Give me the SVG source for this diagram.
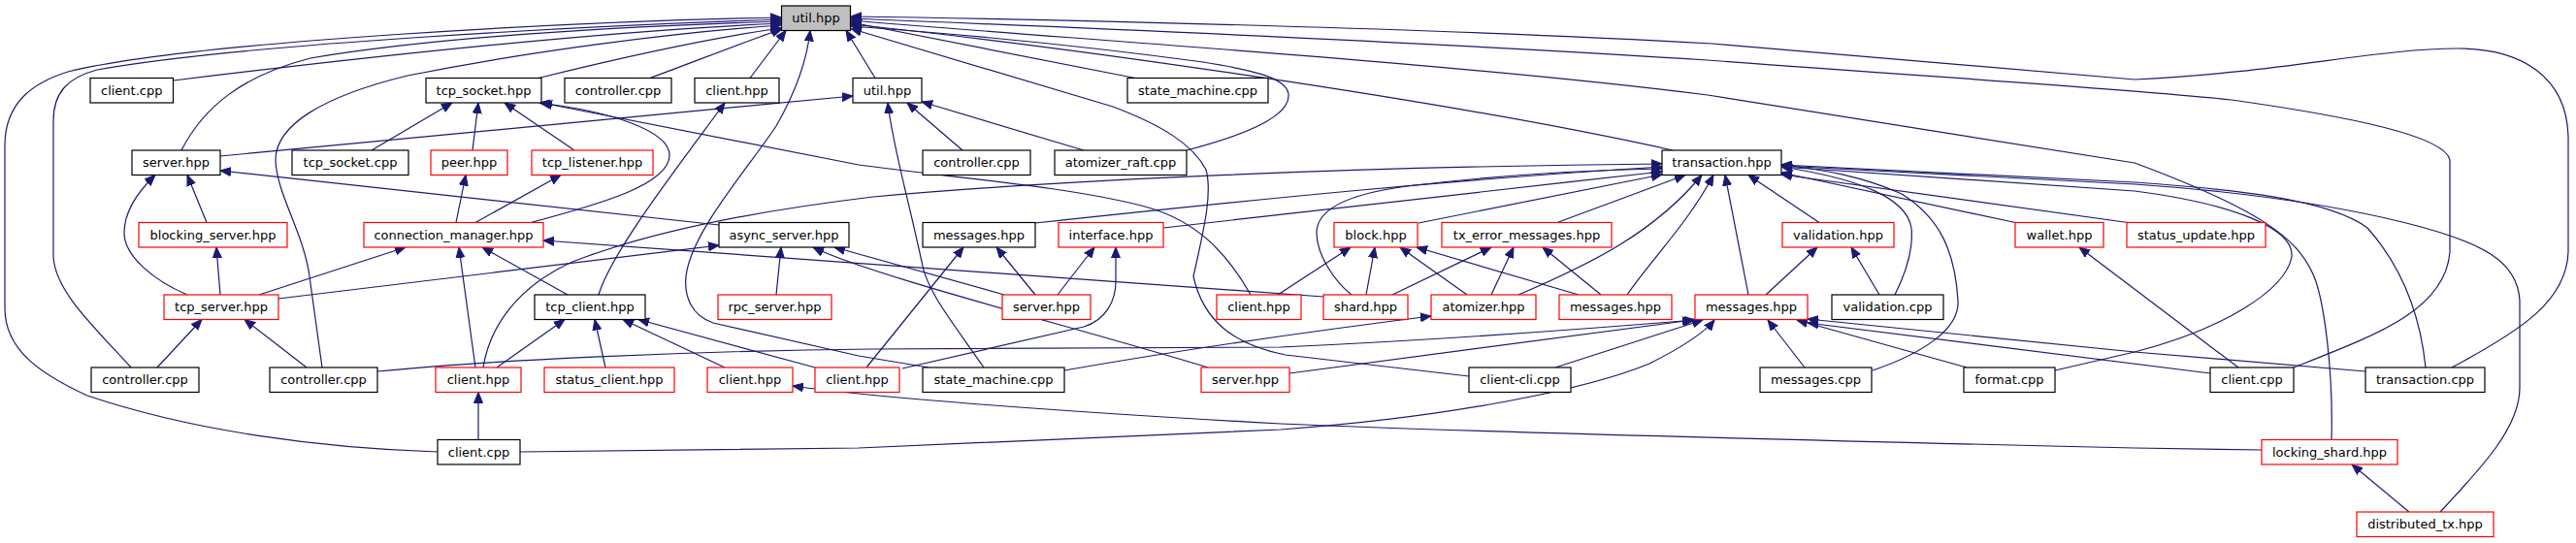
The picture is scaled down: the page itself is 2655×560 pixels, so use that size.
<svg xmlns="http://www.w3.org/2000/svg" width="2655" height="560" viewBox="0 0 2655 560">
<defs>
<style>
.nb{fill:#ffffff;stroke:#000000;stroke-width:1.2}
.nr{fill:#ffffff;stroke:#ff0000;stroke-width:1.2}
.nroot{fill:#bfbfbf;stroke:#000000;stroke-width:1.2}
text{font-family:"DejaVu Sans","Liberation Sans",sans-serif;font-size:13px;fill:#000000;text-anchor:middle}
.e{fill:none;stroke:#191970;stroke-width:1.2;marker-end:url(#ah)}
</style>
<marker id="ah" markerWidth="12" markerHeight="10" refX="11" refY="4.5" orient="auto" markerUnits="userSpaceOnUse" viewBox="0 0 12 9">
<path d="M0,0 L11,4.5 L0,9 z" fill="#191970" stroke="#191970" stroke-width="1"/>
</marker>
</defs>
<rect x="0" y="0" width="2655" height="560" fill="#ffffff"/>
<g id="edges">
<path class="e" d="M179,83 C350,62 600,33 805,24"/>
<path class="e" d="M555,80.5 C650,57 740,38 805,29"/>
<path class="e" d="M670,80.5 C720,62 770,42 806,30"/>
<path class="e" d="M773,80.5 L810,31.5"/>
<path class="e" d="M902,80.5 L872,31.5"/>
<path class="e" d="M1170,80.5 L877,23"/>
<path class="e" d="M1223,155 C1300,135 1330,115 1328,97 C1326,80 1290,72 1240,64 C1100,45 960,33 877,27"/>
<path class="e" d="M1724,155 C1500,105 1100,48 877,25"/>
<path class="e" d="M187,155 C210,110 250,78 320,60 C450,38 650,27 805,22"/>
<path class="e" d="M135,379 C95,335 57,300 55,265 L55,125 C55,95 70,80 100,72 C250,45 600,27 805,20"/>
<path class="e" d="M332,379 L319,285 C313,240 285,200 284,165 C284,130 330,100 420,78 C550,52 700,33 805,26"/>
<path class="e" d="M451,466 C330,462 200,445 90,408 C40,385 5,360 5,318 L5,150 C5,105 35,85 70,74 C200,42 600,22 805,18"/>
<path class="e" d="M957,379 L885,367 L735,333 C712,325 705,305 707,285 C712,240 770,175 800,130 C820,95 832,60 835,31.5"/>
<path class="e" d="M1514,388 L1325,366 C1270,355 1240,330 1230,285 C1240,240 1250,200 1243,175 C1230,150 1200,130 1147,110 L877,29.5"/>
<path class="e" d="M2527,379 C2600,340 2645,310 2647,260 L2647,140 C2645,80 2600,50 2533,50 C2450,50 2350,75 2200,82 L1765,45 C1500,30 1100,20 877,17"/>
<path class="e" d="M2364,379 C2450,345 2520,320 2525,260 L2525,165 C2520,140 2420,120 2300,103 C2200,92 2000,80 1760,62 C1500,45 1100,28 877,19"/>
<path class="e" d="M2403,453.5 C2405,380 2395,310 2385,285 C2370,250 2340,220 2200,168 L1760,98 C1500,65 1100,40 877,21"/>
<path class="e" d="M383,155 L466,106"/>
<path class="e" d="M487,155 L493,106"/>
<path class="e" d="M592,155 L520,106"/>
<path class="e" d="M547,229.5 C620,210 690,190 690,160 C690,135 630,115 556,106"/>
<path class="e" d="M1289,304 C1265,262 1235,228 1180,213 C1100,192 980,183 885,170 L558,106"/>
<path class="e" d="M617,304 C630,260 700,170 747,106"/>
<path class="e" d="M227,161 L879,99"/>
<path class="e" d="M992,155 L935,106"/>
<path class="e" d="M1117,155 L950,105"/>
<path class="e" d="M1014,379 C980,330 955,300 950,270 C935,200 920,150 915,106"/>
<path class="e" d="M213,229.5 L193,180.5"/>
<path class="e" d="M193,304 C160,290 128,265 128,240 C128,215 145,195 160,180.5"/>
<path class="e" d="M741,232 L227,176"/>
<path class="e" d="M470,229.5 L480,180.5"/>
<path class="e" d="M490,229.5 L578,180.5"/>
<path class="e" d="M227,304 L223,255"/>
<path class="e" d="M267,304 L418,255"/>
<path class="e" d="M585,304 L497,255"/>
<path class="e" d="M490,379 L473,255"/>
<path class="e" d="M1364,306 L560,248"/>
<path class="e" d="M287,308 L741,253"/>
<path class="e" d="M800,304 L805,255"/>
<path class="e" d="M1035,304 L860,255"/>
<path class="e" d="M1245,379 C1100,335 900,285 838,255"/>
<path class="e" d="M1067,304 L1027,255"/>
<path class="e" d="M893,379 L993,255"/>
<path class="e" d="M1090,304 L1128,255"/>
<path class="e" d="M930,380 L1117,337 C1140,330 1150,310 1150,290 L1150,255"/>
<path class="e" d="M1067,230 C1300,205 1500,185 1713,172"/>
<path class="e" d="M1199,235 C1400,213 1550,195 1713,177"/>
<path class="e" d="M498,379 C505,335 535,295 590,270 C680,235 800,215 900,203 C1100,185 1400,172 1713,169"/>
<path class="e" d="M1462,230 L1713,180"/>
<path class="e" d="M1605,229.5 L1737,180.5"/>
<path class="e" d="M1393,304 C1375,290 1357,262 1357,240 C1357,215 1390,200 1450,192 C1550,180 1650,175 1713,174"/>
<path class="e" d="M1565,304 C1640,272 1705,240 1754,180.5"/>
<path class="e" d="M1677,304 C1700,270 1740,230 1766,180.5"/>
<path class="e" d="M1802,304 L1778,180.5"/>
<path class="e" d="M1875,229.5 L1802,180.5"/>
<path class="e" d="M1953,304 C1965,280 1972,255 1970,235 C1965,205 1920,185 1836,172"/>
<path class="e" d="M1930,382 C1980,365 2020,340 2018,310 C2015,260 2000,225 1960,200 C1920,182 1880,175 1836,170"/>
<path class="e" d="M2077,229.5 L1836,178"/>
<path class="e" d="M2193,229.5 L1836,180"/>
<path class="e" d="M2500,379 C2495,330 2480,280 2440,235 C2400,205 2300,195 2200,188 L1836,170"/>
<path class="e" d="M2515,528 C2560,480 2597,440 2597,400 L2597,310 C2595,270 2560,250 2480,230 C2400,210 2300,197 2200,190 L1836,171"/>
<path class="e" d="M2118,382 L2200,363 C2290,340 2355,300 2362,265 C2365,235 2300,210 2200,197 L1836,172"/>
<path class="e" d="M1317,304 L1392,255"/>
<path class="e" d="M1408,304 L1417,255"/>
<path class="e" d="M1512,304 L1443,255"/>
<path class="e" d="M1627,304 L1460,255"/>
<path class="e" d="M1435,304 L1537,255"/>
<path class="e" d="M1537,304 L1560,255"/>
<path class="e" d="M1650,304 L1590,255"/>
<path class="e" d="M1820,304 L1873,255"/>
<path class="e" d="M1937,304 L1908,255"/>
<path class="e" d="M2307,379 L2143,255"/>
<path class="e" d="M162,379 L208,329.5"/>
<path class="e" d="M316,379 L252,329.5"/>
<path class="e" d="M512,379 L582,329.5"/>
<path class="e" d="M624,379 L613,329.5"/>
<path class="e" d="M747,379 L642,329.5"/>
<path class="e" d="M840,379 L658,329.5"/>
<path class="e" d="M493,453.5 L493,404.5"/>
<path class="e" d="M1097,382 C1250,355 1380,338 1475,326"/>
<path class="e" d="M389,383 C500,372 700,362 900,360 L1320,358 C1500,350 1650,338 1747,330"/>
<path class="e" d="M1329,385 L1745,330"/>
<path class="e" d="M1603,379 L1755,330"/>
<path class="e" d="M536,466 L885,462 L1320,443 C1500,430 1640,400 1700,375 C1730,360 1755,345 1767,330"/>
<path class="e" d="M1860,379 L1822,330"/>
<path class="e" d="M2027,379 L1852,330"/>
<path class="e" d="M2278,385 L1863,333"/>
<path class="e" d="M2438,383 L2200,363 L1863,329"/>
<path class="e" d="M2331,464 L2200,462 C1900,455 1500,445 1320,437 C1100,425 900,410 817,398"/>
<path class="e" d="M2483,528 L2424,479"/>
</g>
<g id="n_util_root"><rect class="nroot" x="805.5" y="6" width="71" height="25.5"/><text x="841" y="23">util.hpp</text></g>
<g id="n_client_cpp_1"><rect class="nb" x="93" y="80.5" width="85.5" height="25.5"/><text x="135.75" y="97.5">client.cpp</text></g>
<g id="n_tcp_socket_hpp"><rect class="nb" x="439" y="80.5" width="119" height="25.5"/><text x="498.5" y="97.5">tcp_socket.hpp</text></g>
<g id="n_controller_cpp_1"><rect class="nb" x="582" y="80.5" width="110" height="25.5"/><text x="637" y="97.5">controller.cpp</text></g>
<g id="n_client_hpp_1"><rect class="nb" x="716" y="80.5" width="87" height="25.5"/><text x="759.5" y="97.5">client.hpp</text></g>
<g id="n_util_hpp_2"><rect class="nb" x="879" y="80.5" width="71" height="25.5"/><text x="914.5" y="97.5">util.hpp</text></g>
<g id="n_state_machine_cpp_1"><rect class="nb" x="1162" y="80.5" width="145" height="25.5"/><text x="1234.5" y="97.5">state_machine.cpp</text></g>
<g id="n_server_hpp_1"><rect class="nb" x="136" y="155" width="91" height="25.5"/><text x="181.5" y="172">server.hpp</text></g>
<g id="n_tcp_socket_cpp"><rect class="nb" x="301" y="155" width="120" height="25.5"/><text x="361" y="172">tcp_socket.cpp</text></g>
<g id="n_peer_hpp"><rect class="nr" x="444" y="155" width="79" height="25.5"/><text x="483.5" y="172">peer.hpp</text></g>
<g id="n_tcp_listener_hpp"><rect class="nr" x="548" y="155" width="125" height="25.5"/><text x="610.5" y="172">tcp_listener.hpp</text></g>
<g id="n_controller_cpp_2"><rect class="nb" x="951" y="155" width="111" height="25.5"/><text x="1006.5" y="172">controller.cpp</text></g>
<g id="n_atomizer_raft_cpp"><rect class="nb" x="1087" y="155" width="136" height="25.5"/><text x="1155" y="172">atomizer_raft.cpp</text></g>
<g id="n_transaction_hpp"><rect class="nb" x="1713" y="155" width="123" height="25.5"/><text x="1774.5" y="172">transaction.hpp</text></g>
<g id="n_blocking_server_hpp"><rect class="nr" x="143" y="229.5" width="153" height="25.5"/><text x="219.5" y="246.5">blocking_server.hpp</text></g>
<g id="n_connection_manager_hpp"><rect class="nr" x="375" y="229.5" width="185" height="25.5"/><text x="467.5" y="246.5">connection_manager.hpp</text></g>
<g id="n_async_server_hpp"><rect class="nb" x="741" y="229.5" width="134" height="25.5"/><text x="808" y="246.5">async_server.hpp</text></g>
<g id="n_messages_hpp_1"><rect class="nb" x="951" y="229.5" width="116" height="25.5"/><text x="1009" y="246.5">messages.hpp</text></g>
<g id="n_interface_hpp"><rect class="nr" x="1091" y="229.5" width="108" height="25.5"/><text x="1145" y="246.5">interface.hpp</text></g>
<g id="n_block_hpp"><rect class="nr" x="1375" y="229.5" width="86" height="25.5"/><text x="1418" y="246.5">block.hpp</text></g>
<g id="n_tx_error_messages_hpp"><rect class="nr" x="1486" y="229.5" width="175" height="25.5"/><text x="1573.5" y="246.5">tx_error_messages.hpp</text></g>
<g id="n_validation_hpp"><rect class="nr" x="1837" y="229.5" width="115" height="25.5"/><text x="1894.5" y="246.5">validation.hpp</text></g>
<g id="n_wallet_hpp"><rect class="nr" x="2077" y="229.5" width="91" height="25.5"/><text x="2122.5" y="246.5">wallet.hpp</text></g>
<g id="n_status_update_hpp"><rect class="nr" x="2192" y="229.5" width="143" height="25.5"/><text x="2263.5" y="246.5">status_update.hpp</text></g>
<g id="n_tcp_server_hpp"><rect class="nr" x="169" y="304" width="118" height="25.5"/><text x="228" y="321">tcp_server.hpp</text></g>
<g id="n_tcp_client_hpp"><rect class="nb" x="551" y="304" width="114" height="25.5"/><text x="608" y="321">tcp_client.hpp</text></g>
<g id="n_rpc_server_hpp"><rect class="nr" x="740" y="304" width="117" height="25.5"/><text x="798.5" y="321">rpc_server.hpp</text></g>
<g id="n_server_hpp_2"><rect class="nr" x="1033" y="304" width="91" height="25.5"/><text x="1078.5" y="321">server.hpp</text></g>
<g id="n_client_hpp_2"><rect class="nr" x="1254" y="304" width="87" height="25.5"/><text x="1297.5" y="321">client.hpp</text></g>
<g id="n_shard_hpp"><rect class="nr" x="1364" y="304" width="87" height="25.5"/><text x="1407.5" y="321">shard.hpp</text></g>
<g id="n_atomizer_hpp"><rect class="nr" x="1475" y="304" width="108" height="25.5"/><text x="1529" y="321">atomizer.hpp</text></g>
<g id="n_messages_hpp_2"><rect class="nr" x="1607" y="304" width="116" height="25.5"/><text x="1665" y="321">messages.hpp</text></g>
<g id="n_messages_hpp_3"><rect class="nr" x="1747" y="304" width="116" height="25.5"/><text x="1805" y="321">messages.hpp</text></g>
<g id="n_validation_cpp"><rect class="nb" x="1888" y="304" width="115" height="25.5"/><text x="1945.5" y="321">validation.cpp</text></g>
<g id="n_controller_cpp_3"><rect class="nb" x="94" y="379" width="111" height="25.5"/><text x="149.5" y="396">controller.cpp</text></g>
<g id="n_controller_cpp_4"><rect class="nb" x="278" y="379" width="111" height="25.5"/><text x="333.5" y="396">controller.cpp</text></g>
<g id="n_client_hpp_3"><rect class="nr" x="449" y="379" width="88" height="25.5"/><text x="493" y="396">client.hpp</text></g>
<g id="n_status_client_hpp"><rect class="nr" x="561" y="379" width="134" height="25.5"/><text x="628" y="396">status_client.hpp</text></g>
<g id="n_client_hpp_4"><rect class="nr" x="729" y="379" width="88" height="25.5"/><text x="773" y="396">client.hpp</text></g>
<g id="n_client_hpp_5"><rect class="nr" x="840" y="379" width="87" height="25.5"/><text x="883.5" y="396">client.hpp</text></g>
<g id="n_state_machine_cpp_2"><rect class="nb" x="951" y="379" width="146" height="25.5"/><text x="1024" y="396">state_machine.cpp</text></g>
<g id="n_server_hpp_3"><rect class="nr" x="1238" y="379" width="91" height="25.5"/><text x="1283.5" y="396">server.hpp</text></g>
<g id="n_client_cli_cpp"><rect class="nb" x="1514" y="379" width="105" height="25.5"/><text x="1566.5" y="396">client-cli.cpp</text></g>
<g id="n_messages_cpp"><rect class="nb" x="1814" y="379" width="115" height="25.5"/><text x="1871.5" y="396">messages.cpp</text></g>
<g id="n_format_cpp"><rect class="nb" x="2024" y="379" width="94" height="25.5"/><text x="2071" y="396">format.cpp</text></g>
<g id="n_client_cpp_2"><rect class="nb" x="2278" y="379" width="86" height="25.5"/><text x="2321" y="396">client.cpp</text></g>
<g id="n_transaction_cpp"><rect class="nb" x="2438" y="379" width="123" height="25.5"/><text x="2499.5" y="396">transaction.cpp</text></g>
<g id="n_client_cpp_3"><rect class="nb" x="451" y="453.5" width="85" height="25.5"/><text x="493.5" y="470.5">client.cpp</text></g>
<g id="n_locking_shard_hpp"><rect class="nr" x="2331" y="453.5" width="140" height="25.5"/><text x="2401" y="470.5">locking_shard.hpp</text></g>
<g id="n_distributed_tx_hpp"><rect class="nr" x="2429" y="528" width="141" height="25.5"/><text x="2499.5" y="545">distributed_tx.hpp</text></g>
</svg>
